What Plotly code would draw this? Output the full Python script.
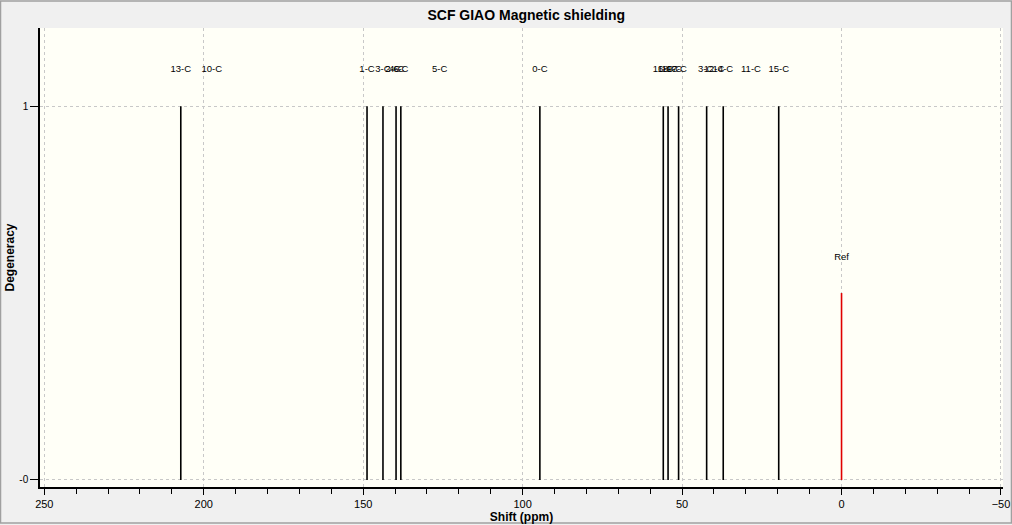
import plotly.graph_objects as go

# Peak data (ppm shift, degeneracy)
peak_shifts = [207.2, 148.8, 143.8, 139.7, 138.2, 94.6, 55.9, 54.4, 51.1, 42.3, 37.1, 19.7]
peak_degeneracy = [1, 1, 1, 1, 1, 1, 1, 1, 1, 1, 1, 1]
ref_shift = [0.0]
ref_height = [0.5]

# Peak labels (text, ppm position)
label_texts = ["13-C", "10-C", "1-C", "3-C", "2-C", "4-C", "6-C", "5-C", "0-C",
               "16-C", "18-C", "19-C", "17-C", "3-C", "12-C", "14-C", "11-C", "15-C"]
label_shifts = [207.2, 197.5, 148.8, 143.8, 140.7, 139.5, 138.2, 126.0, 94.6,
                56.0, 54.5, 53.2, 51.7, 42.6, 40.0, 37.2, 28.4, 19.7]
label_y = 1.097
ref_label = "Ref"
ref_label_y = 0.595

x_range = [251.35, -50.63]
y_range = [-0.0188, 1.209]
x_major = [250, 200, 150, 100, 50, 0, -50]
y_ticks = [0, 1]
y_ticklabels = ["-0", "1"]

FONT = "Liberation Sans, Arial, sans-serif"

fig = go.Figure()

xs, ys = [], []
for p, h in zip(peak_shifts, peak_degeneracy):
    xs += [p, p, None]
    ys += [0, h, None]
fig.add_trace(go.Scatter(x=xs, y=ys, mode="lines",
                         line=dict(color="black", width=1.6),
                         hoverinfo="skip", showlegend=False))

rx, ry = [], []
for p, h in zip(ref_shift, ref_height):
    rx += [p, p, None]
    ry += [0, h, None]
fig.add_trace(go.Scatter(x=rx, y=ry, mode="lines",
                         line=dict(color="#e00000", width=1.6),
                         hoverinfo="skip", showlegend=False))

fig.add_trace(go.Scatter(x=label_shifts, y=[label_y] * len(label_shifts),
                         mode="text", text=label_texts,
                         textfont=dict(family=FONT, size=9.5, color="black"),
                         hoverinfo="skip", showlegend=False))
fig.add_trace(go.Scatter(x=ref_shift, y=[ref_label_y], mode="text",
                         text=[ref_label],
                         textfont=dict(family=FONT, size=9.5, color="black"),
                         hoverinfo="skip", showlegend=False))

fig.update_layout(
    width=1012, height=525,
    margin=dict(l=40, r=9, t=28, b=38),
    paper_bgcolor="#f0f0f0",
    plot_bgcolor="#fffff7",
    title=dict(text="<b>SCF GIAO Magnetic shielding</b>", x=0.52, xanchor="center",
               y=0.972, yanchor="middle",
               font=dict(family=FONT, size=14, color="black")),
    font=dict(family=FONT, size=11, color="black"),
)

fig.update_xaxes(
    automargin=False,
    range=x_range, tickvals=x_major, ticks="outside", ticklen=6,
    tickcolor="black", tickwidth=1,
    minor=dict(dtick=10, ticks="outside", ticklen=5, tickcolor="black", showgrid=False),
    showgrid=True, gridcolor="#c8c8c8", griddash="3px,3px", gridwidth=1,
    zeroline=False, showline=True, linecolor="black", linewidth=1.5,
    title=dict(text="<b>Shift (ppm)</b>", font=dict(family=FONT, size=12), standoff=2),
    tickfont=dict(family=FONT, size=11, color="black"),
)
fig.update_yaxes(
    automargin=False,
    range=y_range, tickvals=y_ticks, ticktext=y_ticklabels,
    ticks="outside", ticklen=8, tickcolor="black",
    showgrid=True, gridcolor="#c8c8c8", griddash="3px,3px", gridwidth=1,
    zeroline=False, showline=True, linecolor="black", linewidth=1.5,
    title=dict(text="<b>Degeneracy</b>", font=dict(family=FONT, size=12), standoff=2),
    tickfont=dict(family=FONT, size=10, color="black"),
)

# outer frame of the window
fig.add_shape(type="rect", xref="paper", yref="paper",
              x0=-0.0410, x1=1.0088, y0=-0.0784, y1=1.059,
              line=dict(color="#a0a0a0", width=1.5), fillcolor="rgba(0,0,0,0)")

fig.write_html("out.html", config={"displayModeBar": False},
               post_script="document.body.style.margin='0';document.body.style.overflow='hidden';")
